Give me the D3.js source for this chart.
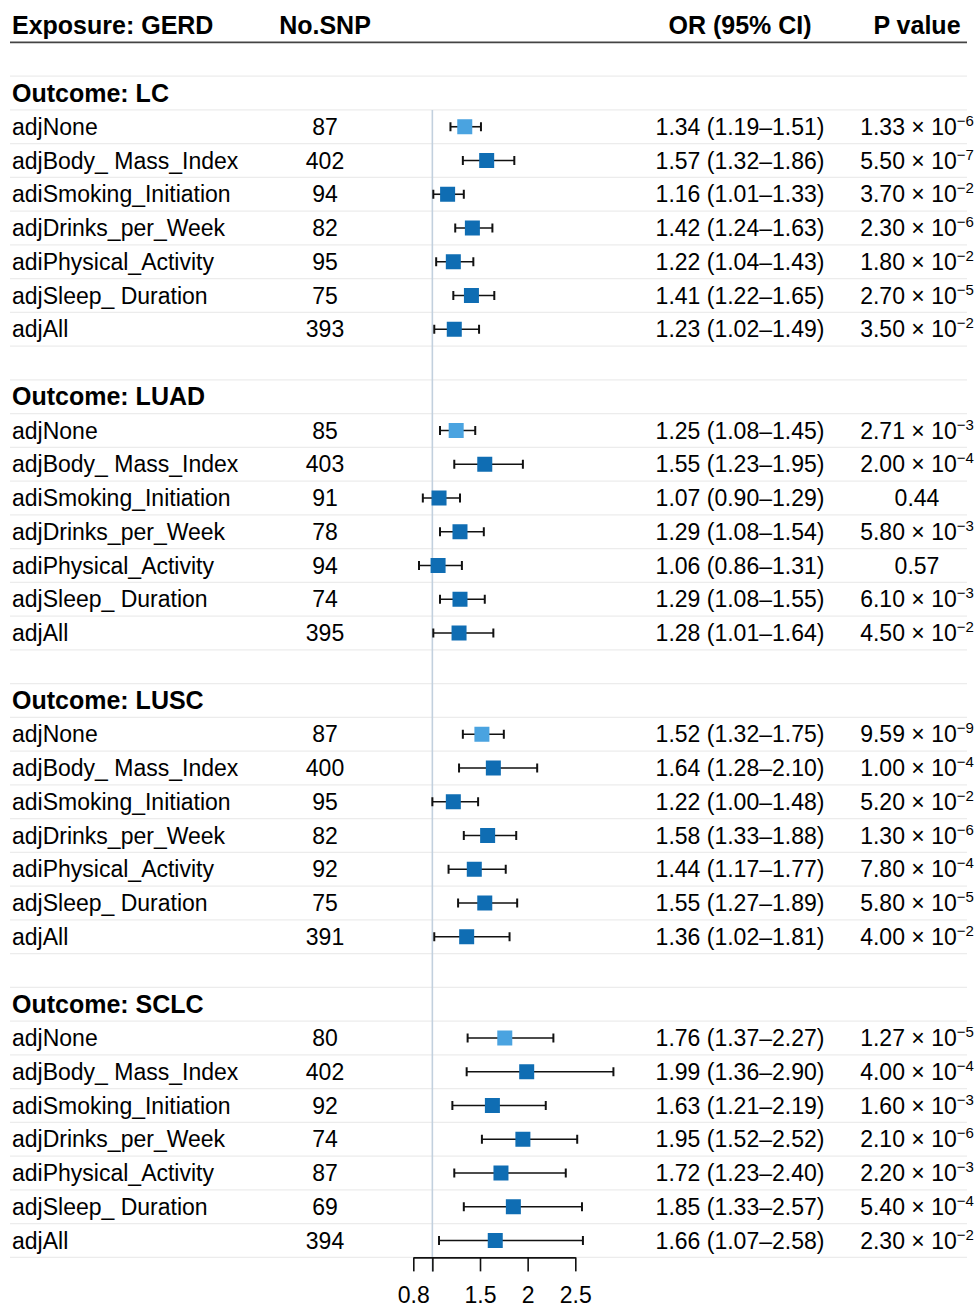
<!DOCTYPE html>
<html>
<head>
<meta charset="utf-8">
<script src="https://cdn.jsdelivr.net/npm/d3@7"></script>
<style>
  body { margin: 0; background: #fff; }
  svg text { font-family: "Liberation Sans", Arial, Helvetica, sans-serif; fill: #000; }
</style>
</head>
<body>
<svg id="chart" width="977" height="1308"></svg>
<script>
// Data
const exposure = "GERD";
const outcomes = ["LC", "LUAD", "LUSC", "SCLC"];
const adjustments = ["adjNone", "adjBody_ Mass_Index", "adiSmoking_Initiation", "adjDrinks_per_Week",
    "adiPhysical_Activity", "adjSleep_ Duration", "adjAll"];

const nSNP = [
    [87, 402, 94, 82, 95, 75, 393],
    [85, 403, 91, 78, 94, 74, 395],
    [87, 400, 95, 82, 92, 75, 391],
    [80, 402, 92, 74, 87, 69, 394]
];
const orValues = [
    [1.34, 1.57, 1.16, 1.42, 1.22, 1.41, 1.23],
    [1.25, 1.55, 1.07, 1.29, 1.06, 1.29, 1.28],
    [1.52, 1.64, 1.22, 1.58, 1.44, 1.55, 1.36],
    [1.76, 1.99, 1.63, 1.95, 1.72, 1.85, 1.66]
];
const ciLower = [
    [1.19, 1.32, 1.01, 1.24, 1.04, 1.22, 1.02],
    [1.08, 1.23, 0.90, 1.08, 0.86, 1.08, 1.01],
    [1.32, 1.28, 1.00, 1.33, 1.17, 1.27, 1.02],
    [1.37, 1.36, 1.21, 1.52, 1.23, 1.33, 1.07]
];
const ciUpper = [
    [1.51, 1.86, 1.33, 1.63, 1.43, 1.65, 1.49],
    [1.45, 1.95, 1.29, 1.54, 1.31, 1.55, 1.64],
    [1.75, 2.10, 1.48, 1.88, 1.77, 1.89, 1.81],
    [2.27, 2.90, 2.19, 2.52, 2.40, 2.57, 2.58]
];
const pValues = [
    ["1.33e-6", "5.50e-7", "3.70e-2", "2.30e-6", "1.80e-2", "2.70e-5", "3.50e-2"],
    ["2.71e-3", "2.00e-4", "0.44", "5.80e-3", "0.57", "6.10e-3", "4.50e-2"],
    ["9.59e-9", "1.00e-4", "5.20e-2", "1.30e-6", "7.80e-4", "5.80e-5", "4.00e-2"],
    ["1.27e-5", "4.00e-4", "1.60e-3", "2.10e-6", "2.20e-3", "5.40e-4", "2.30e-2"]
];
const axisTicks = [0.8, 1, 1.5, 2, 2.5];

// Build row list: header, blank, then per outcome a title + 7 rows + blank
const rows = [{ type: "head" }, { type: "blank" }];
outcomes.forEach((o, g) => {
    rows.push({ type: "group", label: "Outcome: " + o });
    adjustments.forEach((a, i) => {
        rows.push({
            type: "data", label: a, n: nSNP[g][i], or: orValues[g][i],
            lo: ciLower[g][i], hi: ciUpper[g][i], p: pValues[g][i], ref: i === 0
        });
    });
    if (g < outcomes.length - 1) rows.push({ type: "blank" });
});

const svg = d3.select("#chart");
const y = d3.scaleLinear().domain([0, rows.length - 1]).range([25.5, 1240.5]);
const pitch = y(1) - y(0);
const x = d3.scaleLinear().domain([0.8, 2.5]).range([413.3, 575.3]);

const colLabel = 12, colN = 325, colOR = 740, colP = 917;
const lineLeft = 10, lineRight = 967;

// Row grid lines
svg.append("g")
    .selectAll("line")
    .data(d3.range(2, rows.length + 1))
    .join("line")
    .attr("x1", lineLeft).attr("x2", lineRight)
    .attr("y1", d => y(d) - pitch / 2).attr("y2", d => y(d) - pitch / 2)
    .attr("stroke", "#ececec").attr("stroke-width", 1.2);

// Header
const head = svg.append("g").attr("font-weight", "bold").attr("font-size", 25);
head.append("text").attr("x", colLabel).attr("y", y(0) + 8.5).text("Exposure: " + exposure);
head.append("text").attr("x", colN).attr("y", y(0) + 8.5).attr("text-anchor", "middle").text("No.SNP");
head.append("text").attr("x", colOR).attr("y", y(0) + 8.5).attr("text-anchor", "middle").text("OR (95% CI)");
head.append("text").attr("x", colP).attr("y", y(0) + 8.5).attr("text-anchor", "middle").text("P value");
svg.append("line")
    .attr("x1", lineLeft).attr("x2", lineRight)
    .attr("y1", y(0) + pitch / 2).attr("y2", y(0) + pitch / 2)
    .attr("stroke", "#444").attr("stroke-width", 1.6);

// Group titles
svg.append("g").selectAll("text")
    .data(rows.map((r, i) => ({ ...r, i })).filter(r => r.type === "group"))
    .join("text")
    .attr("x", colLabel).attr("y", d => y(d.i) + 8.5)
    .attr("font-weight", "bold").attr("font-size", 25)
    .text(d => d.label);

const dataRows = rows.map((r, i) => ({ ...r, i })).filter(r => r.type === "data");

// Reference line at OR = 1
const firstData = dataRows[0].i;
svg.append("line")
    .attr("x1", x(1)).attr("x2", x(1))
    .attr("y1", y(firstData) - pitch / 2).attr("y2", y(rows.length - 1) + pitch / 2 + 14)
    .attr("stroke", "#c2d0de").attr("stroke-width", 1.6);

// Text columns
const txt = svg.append("g").attr("font-size", 23);
txt.selectAll(".lab").data(dataRows).join("text")
    .attr("x", colLabel).attr("y", d => y(d.i) + 8).text(d => d.label);
txt.selectAll(".n").data(dataRows).join("text")
    .attr("x", colN).attr("y", d => y(d.i) + 8).attr("text-anchor", "middle").text(d => d.n);
txt.selectAll(".or").data(dataRows).join("text")
    .attr("x", colOR).attr("y", d => y(d.i) + 8).attr("text-anchor", "middle")
    .text(d => `${d.or.toFixed(2)} (${d.lo.toFixed(2)}\u2013${d.hi.toFixed(2)})`);

txt.selectAll(".p").data(dataRows).join("text")
    .attr("x", colP).attr("y", d => y(d.i) + 8).attr("text-anchor", "middle")
    .each(function (d) {
        const t = d3.select(this);
        if (d.p.includes("e")) {
            const [m, e] = d.p.split("e");
            t.append("tspan").text(m + " \u00d7 10");
            t.append("tspan").attr("font-size", 15).attr("dy", -9)
                .text("\u2212" + e.replace("-", ""));
        } else {
            t.text(d.p);
        }
    });

// CI whiskers
const forest = svg.append("g");
forest.selectAll(".ci").data(dataRows).join("line")
    .attr("x1", d => x(d.lo)).attr("x2", d => x(d.hi))
    .attr("y1", d => y(d.i)).attr("y2", d => y(d.i))
    .attr("stroke", "#111").attr("stroke-width", 1.6);
["lo", "hi"].forEach(k => {
    forest.selectAll(".cap-" + k).data(dataRows).join("line")
        .attr("x1", d => x(d[k])).attr("x2", d => x(d[k]))
        .attr("y1", d => y(d.i) - 4.5).attr("y2", d => y(d.i) + 4.5)
        .attr("stroke", "#111").attr("stroke-width", 2);
});
const box = 15;
forest.selectAll(".pt").data(dataRows).join("rect")
    .attr("x", d => x(d.or) - box / 2).attr("y", d => y(d.i) - box / 2)
    .attr("width", box).attr("height", box)
    .attr("fill", d => d.ref ? "#4aa3e0" : "#0f6db3");

// Axis
const axisY = y(rows.length - 1) + pitch / 2;
const axis = svg.append("g")
    .attr("transform", `translate(0,${axisY})`)
    .call(d3.axisBottom(x).tickValues(axisTicks)
        .tickFormat(d => d === 1 ? "" : d3.format("")(d))
        .tickSize(14).tickSizeOuter(0).tickPadding(15));
axis.select(".domain").attr("stroke", "#111").attr("stroke-width", 1.6);
axis.selectAll(".tick line").attr("stroke", "#111").attr("stroke-width", 1.6);
axis.selectAll(".tick text").attr("font-size", 23).attr("fill", "#000")
    .attr("font-family", "Liberation Sans, Arial, Helvetica, sans-serif");
</script>
</body>
</html>
